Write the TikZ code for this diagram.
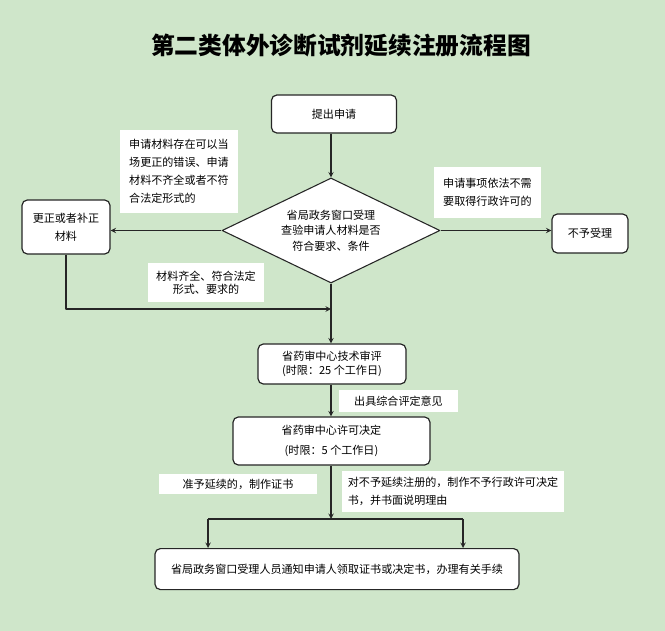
\documentclass[tikz,border=0pt]{standalone}
\usepackage{fontspec}
\newfontfamily\cjk{Noto Sans CJK SC}
\usetikzlibrary{shapes.geometric}
\definecolor{bggreen}{RGB}{207,230,202}

\begin{document}
\begin{tikzpicture}[>=stealth, x=0.75pt, y=-0.75pt, line join=round,
  stepbox/.style={draw=black!85, line width=0.9pt, fill=white, rounded corners=4pt,
    inner sep=1pt, align=center, font=\cjk\fontsize{8.3pt}{13.5pt}\selectfont},
  notebox/.style={fill=white, inner sep=1pt, font=\cjk\fontsize{8.3pt}{13.5pt}\selectfont},
  flow/.style={->, draw=black!85, line width=0.8pt}]
  % page and background
  \useasboundingbox[fill=bggreen] (0,0) rectangle (665,631);

  % title
  \node[font=\cjk\bfseries\fontsize{17.8pt}{20pt}\selectfont] (title) at (341,45)
    {第二类体外诊断试剂延续注册流程图};

  % main column
  \node[stepbox, minimum width=93.75pt, minimum height=28.5pt] (apply) at (334,114) {提出申请};
  \node[diamond, draw=black!85, line width=0.8pt, fill=white, inner sep=0pt, aspect=2,
    minimum width=163.5pt, minimum height=78.75pt, align=center,
    font=\cjk\fontsize{8.3pt}{11.6pt}\selectfont] (check) at (331,230.5)
    {省局政务窗口受理\\查验申请人材料是否\\符合要求、条件};
  \node[stepbox, minimum width=111pt, minimum height=30pt,
    font=\cjk\fontsize{8.3pt}{10.5pt}\selectfont] (review) at (332,364)
    {省药审中心技术审评\\(时限：25 个工作日)};
  \node[stepbox, minimum width=147.75pt, minimum height=36pt,
    font=\cjk\fontsize{8.3pt}{15pt}\selectfont] (decide) at (331.5,441)
    {省药审中心许可决定\\(时限：5 个工作日)};
  \node[stepbox, minimum width=273pt, minimum height=30.75pt, anchor=north] (notify) at (337,548)
    {省局政务窗口受理人员通知申请人领取证书或决定书，办理有关手续};

  % side boxes
  \node[stepbox, minimum width=66pt, minimum height=40.5pt] (fix) at (66,227)
    {更正或者补正\\材料};
  \node[stepbox, minimum width=57pt, minimum height=29.25pt] (reject) at (590,233.5) {不予受理};

  % condition labels
  \node[notebox, align=left, minimum width=88.5pt, minimum height=62.25pt] (lblfix) at (179,171.5)
    {申请材料存在可以当\\场更正的错误、申请\\材料不齐全或者不符\\合法定形式的};
  \node[notebox, align=left, minimum width=80.25pt, minimum height=38.25pt] (lblreject) at (487.5,192.5)
    {申请事项依法不需\\要取得行政许可的};
  \node[notebox, align=center, minimum width=87pt, minimum height=29.25pt,
    font=\cjk\fontsize{8.3pt}{10pt}\selectfont] (lblok) at (206,282.5)
    {材料齐全、符合法定\\形式、要求的};
  \node[notebox, minimum width=89.25pt, minimum height=16.5pt] (lblopinion) at (398.5,401)
    {出具综合评定意见};
  \node[notebox, minimum width=118.5pt, minimum height=15pt] (lblgrant) at (238,484)
    {准予延续的，制作证书};
  \node[notebox, align=left, minimum width=166.5pt, minimum height=30.75pt] (lbldeny) at (453,491.5)
    {对不予延续注册的，制作不予行政许可决定\\书，并书面说明理由};

  % junction points
  \coordinate (merge) at (331,309);
  \coordinate (split) at (331,519);
  \coordinate (splitl) at (208,519);
  \coordinate (splitr) at (463,519);

  % connectors
  \draw[flow] (apply.south -| check.north) -- (check.north);
  \draw[flow] (check.west) -- (check.west -| fix.east);
  \draw[flow] (check.east) -- (check.east -| reject.west);
  \draw[flow] (fix.south) |- (merge);
  \draw[flow] (check.south) -- (review.north -| check.south);
  \draw[flow] (review.south -| check.south) -- (decide.north -| check.south);
  \draw[flow] (decide.south -| check.south) -- (split);
  \draw[draw=black!85, line width=0.8pt] (splitl) -- (splitr);
  \draw[flow] (splitl) -- (splitl |- notify.north);
  \draw[flow] (splitr) -- (splitr |- notify.north);
\end{tikzpicture}
\end{document}
